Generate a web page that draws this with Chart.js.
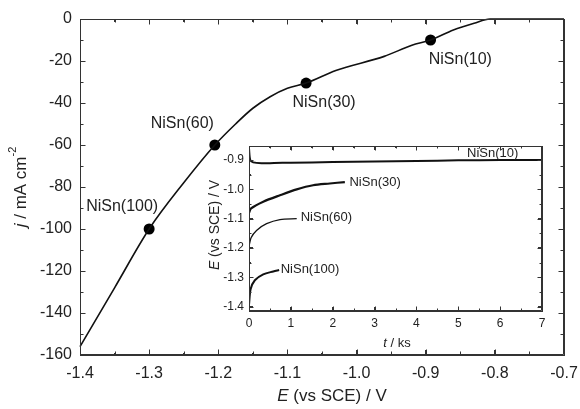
<!DOCTYPE html>
<html>
<head>
<meta charset="utf-8">
<script src="https://cdn.jsdelivr.net/npm/chart.js@4/dist/chart.umd.min.js"></script>
<style>
  html, body { margin: 0; padding: 0; background: #fff; }
  #wrap { position: relative; width: 580px; height: 409px; background: #fff; }
  #main { position: absolute; left: 0; top: 0; }
  #inset { position: absolute; left: 200px; top: 140px; }
</style>
</head>
<body>
<div id="wrap">
  <canvas id="main" width="580" height="409"></canvas>
  <canvas id="inset" width="350" height="215"></canvas>
</div>
<script>
// ---------- main chart data (polarization curve) ----------
const curveE = [-1.4, -1.35, -1.3, -1.25, -1.205, -1.175, -1.15, -1.125, -1.1, -1.073, -1.03, -0.96, -0.92, -0.893, -0.86, -0.83, -0.807, -0.75, -0.7];
const curveJ = [-156, -128, -100, -78, -60, -50, -42.5, -37, -33, -30.5, -24.5, -17.8, -12.5, -10, -5.2, -2, 0, 0, 0];
const markerE = [-1.3, -1.205, -1.073, -0.893];
const markerJ = [-100, -60, -30.5, -10];
const markerNames = ['NiSn(100)', 'NiSn(60)', 'NiSn(30)', 'NiSn(10)'];
const markerLabelE = [-1.339, -1.252, -1.047, -0.85];
const markerLabelJ = [-89.5, -50, -40, -19.5];
const mainXTicks = [-1.4, -1.3, -1.2, -1.1, -1.0, -0.9, -0.8, -0.7];
const mainYTicks = [-160, -140, -120, -100, -80, -60, -40, -20, 0];

// ---------- inset data (E vs t) ----------
const t10 = [0, 0.03, 0.1, 0.3, 0.6, 1, 2, 3, 4, 5, 6, 7];
const e10 = [-0.86, -0.9, -0.908, -0.911, -0.91, -0.909, -0.907, -0.905, -0.903, -0.901, -0.9, -0.9];
const t30 = [0, 0.05, 0.34, 0.74, 1.14, 1.53, 1.93, 2.29];
const e30 = [-1.08, -1.065, -1.042, -1.02, -1.0, -0.986, -0.98, -0.975];
const t60 = [0, 0.05, 0.18, 0.42, 0.74, 1.14];
const e60 = [-1.195, -1.165, -1.14, -1.117, -1.103, -1.1];
const t100 = [0, 0.04, 0.14, 0.34, 0.58, 0.72];
const e100 = [-1.395, -1.34, -1.31, -1.29, -1.28, -1.275];
const insetNames = ['NiSn(10)', 'NiSn(30)', 'NiSn(60)', 'NiSn(100)'];
const insetLabelT = [5.21, 2.40, 1.235, 0.757];
const insetLabelE = [-0.876, -0.976, -1.095, -1.274];
const insetXTicks = [0, 1, 2, 3, 4, 5, 6, 7];
const insetYTicks = [-1.4, -1.3, -1.2, -1.1, -1.0, -0.9];

const FONT = "'Liberation Sans', Arial, sans-serif";
const AXIS_COLOR = '#333';
const zip = (xs, ys) => xs.map((x, i) => ({ x: x, y: ys[i] }));
const mids = arr => arr.slice(1).map((v, i) => (v + arr[i]) / 2);

// An axis with inward tick marks (majors + halfway minors)
function makeAxis(c) {
  const majors = c.majors;
  const all = majors.concat(mids(majors)).sort((a, b) => a - b);
  const isMajor = v => majors.some(m => Math.abs(m - v) < 1e-9);
  const horizontal = c.pos === 'top' || c.pos === 'bottom';
  const startsAtBorder = c.pos === 'bottom' || c.pos === 'right';
  const minorDash = startsAtBorder ? [c.minor, 100] : [0, c.len - c.minor, c.minor, 100];
  return {
    type: 'linear', position: c.pos, min: c.min, max: c.max,
    afterFit: s => {
      if (horizontal) s.height = c.size; else s.width = c.size;
      s.paddingLeft = 0; s.paddingRight = 0; s.paddingTop = 0; s.paddingBottom = 0;
    },
    afterBuildTicks: s => { s.ticks = all.map(v => ({ value: v })); },
    grid: {
      display: true, drawOnChartArea: false, drawTicks: true,
      tickLength: -c.len, tickColor: AXIS_COLOR, tickWidth: 1,
      tickBorderDash: ctx => (ctx.tick && isMajor(ctx.tick.value)) ? [] : minorDash
    },
    border: { display: true, color: AXIS_COLOR, width: 1 },
    ticks: {
      autoSkip: false, maxRotation: 0, minRotation: 0,
      padding: c.padding + c.len, color: '#222',
      font: { family: FONT, size: c.fontSize || 12 },
      callback: v => (c.fmt && isMajor(v)) ? c.fmt(v) : ''
    }
  };
}

// frame + inward ticks as a Path2D, placed through the chart's own scales
function strokeFrame(chart, o) {
  const ctx = chart.ctx, a = chart.chartArea, xs = chart.scales.x, ys = chart.scales.y;
  const L = Math.round(a.left) + 0.5, R = Math.round(a.right) - 0.5;
  const T = Math.round(a.top) + 0.5, B = Math.round(a.bottom) - 0.5;
  const p = new Path2D();
  p.moveTo(L, T); p.lineTo(R, T); p.lineTo(R, B); p.lineTo(L, B); p.closePath();
  const xt = (vals, len) => vals.forEach(v => {
    const q = Math.round(xs.getPixelForValue(v)) + 0.5;
    p.moveTo(q, B); p.lineTo(q, B - len);
    p.moveTo(q, T); p.lineTo(q, T + len);
  });
  const yt = (vals, len) => vals.forEach(v => {
    const q = Math.round(ys.getPixelForValue(v)) + 0.5;
    p.moveTo(L, q); p.lineTo(L + len, q);
    p.moveTo(R, q); p.lineTo(R - len, q);
  });
  xt(o.xTicks, o.len); xt(mids(o.xTicks), o.minor);
  yt(o.yTicks, o.len); yt(mids(o.yTicks), o.minor);
  ctx.save();
  ctx.setLineDash([]);
  ctx.lineWidth = 1;
  ctx.strokeStyle = AXIS_COLOR;
  ctx.stroke(p);
  ctx.restore();
}

function drawMixed(ctx, parts, size, cx, cy, rotate) {
  ctx.save();
  ctx.translate(cx, cy);
  if (rotate) ctx.rotate(-Math.PI / 2);
  const fontOf = p => (p.italic ? 'italic ' : '') + (p.sup ? Math.round(size * 0.65) : size) + 'px ' + FONT;
  let w = 0;
  parts.forEach(p => { ctx.font = fontOf(p); w += ctx.measureText(p.t).width; });
  let x = -w / 2;
  ctx.textBaseline = 'middle'; ctx.textAlign = 'left'; ctx.fillStyle = '#222';
  parts.forEach(p => {
    ctx.font = fontOf(p);
    ctx.fillText(p.t, x, p.sup ? -size * 0.45 : 0);
    x += ctx.measureText(p.t).width;
  });
  ctx.restore();
}

// frame, annotations at data coordinates and axis titles
function makeDecor(o) {
  return {
    id: 'decor' + o.tag,
    afterDraw(chart) {
      const ctx = chart.ctx, xs = chart.scales.x, ys = chart.scales.y;
      strokeFrame(chart, o.frame);
      ctx.save();
      ctx.fillStyle = '#222';
      ctx.font = o.size + 'px ' + FONT;
      ctx.textBaseline = 'middle';
      ctx.textAlign = o.align;
      o.names.forEach((n, i) => ctx.fillText(n, xs.getPixelForValue(o.lx[i]), ys.getPixelForValue(o.ly[i])));
      ctx.restore();
      o.titles.forEach(tt => drawMixed(ctx, tt.parts, tt.size, tt.x, tt.y, tt.rot));
    }
  };
}

const fmt1 = v => Number(v).toFixed(1);
const fmt0 = v => String(Math.round(v));

new Chart(document.getElementById('main'), {
  type: 'scatter',
  data: {
    datasets: [
      { data: zip(curveE, curveJ), showLine: true, borderColor: '#111', borderWidth: 1.6,
        pointRadius: 0, cubicInterpolationMode: 'monotone', fill: false, clip: 4 },
      { data: zip(markerE, markerJ), showLine: false, pointRadius: 5.5,
        backgroundColor: '#000', borderColor: '#000', pointBorderWidth: 0 }
    ]
  },
  options: {
    responsive: false, animation: false, devicePixelRatio: 1,
    layout: { padding: { left: 0, top: 19, right: 16, bottom: 0 } },
    plugins: { legend: { display: false }, tooltip: { enabled: false } },
    scales: {
      x:  makeAxis({ pos: 'bottom', min: -1.4, max: -0.7, majors: mainXTicks, len: 5, minor: 3, size: 54, padding: 9, fontSize: 16, fmt: fmt1 }),
      x2: makeAxis({ pos: 'top',    min: -1.4, max: -0.7, majors: mainXTicks, len: 5, minor: 3, size: 0, padding: 0 }),
      y:  makeAxis({ pos: 'left',   min: -160, max: 0, majors: mainYTicks, len: 5, minor: 3, size: 80, padding: 8, fontSize: 16, fmt: fmt0 }),
      y2: makeAxis({ pos: 'right',  min: -160, max: 0, majors: mainYTicks, len: 5, minor: 3, size: 0, padding: 0 })
    }
  },
  plugins: [
    makeDecor({
      tag: 'Main',
      frame: { len: 5, minor: 3, xTicks: mainXTicks, yTicks: mainYTicks },
      size: 16, align: 'center', names: markerNames, lx: markerLabelE, ly: markerLabelJ,
      titles: [
        { parts: [{ t: 'E', italic: true }, { t: ' (vs SCE) / V' }], size: 17, x: 332, y: 396, rot: false },
        { parts: [{ t: 'j', italic: true }, { t: ' / mA cm' }, { t: '-2', sup: true }], size: 17, x: 21, y: 187, rot: true }
      ]
    })
  ]
});

new Chart(document.getElementById('inset'), {
  type: 'scatter',
  data: {
    datasets: [
      { data: zip(t10, e10), showLine: true, borderColor: '#111', borderWidth: 2, pointRadius: 0, tension: 0.3 },
      { data: zip(t30, e30), showLine: true, borderColor: '#111', borderWidth: 2.2, pointRadius: 0, tension: 0.3 },
      { data: zip(t60, e60), showLine: true, borderColor: '#111', borderWidth: 1.3, pointRadius: 0, tension: 0.3 },
      { data: zip(t100, e100), showLine: true, borderColor: '#111', borderWidth: 2, pointRadius: 0, tension: 0.3 }
    ]
  },
  options: {
    responsive: false, animation: false, devicePixelRatio: 1,
    layout: { padding: { left: 0, top: 6, right: 8, bottom: 0 } },
    plugins: { legend: { display: false }, tooltip: { enabled: false } },
    scales: {
      x:  makeAxis({ pos: 'bottom', min: 0, max: 7, majors: insetXTicks, len: 4, minor: 2, size: 44, padding: 5, fontSize: 12, fmt: fmt0 }),
      x2: makeAxis({ pos: 'top',    min: 0, max: 7, majors: insetXTicks, len: 4, minor: 2, size: 0, padding: 0 }),
      y:  makeAxis({ pos: 'left',   min: -1.415, max: -0.852, majors: insetYTicks, len: 4, minor: 2, size: 49, padding: 5, fontSize: 12, fmt: fmt1 }),
      y2: makeAxis({ pos: 'right',  min: -1.415, max: -0.852, majors: insetYTicks, len: 4, minor: 2, size: 0, padding: 0 })
    }
  },
  plugins: [
    makeDecor({
      tag: 'Inset',
      frame: { len: 4, minor: 2, xTicks: insetXTicks, yTicks: insetYTicks },
      size: 13, align: 'left', names: insetNames, lx: insetLabelT, ly: insetLabelE,
      titles: [
        { parts: [{ t: 't', italic: true }, { t: ' / ks' }], size: 13, x: 197, y: 203, rot: false },
        { parts: [{ t: 'E', italic: true }, { t: ' (vs SCE) / V' }], size: 14, x: 15, y: 85, rot: true }
      ]
    })
  ]
});
</script>
</body>
</html>
